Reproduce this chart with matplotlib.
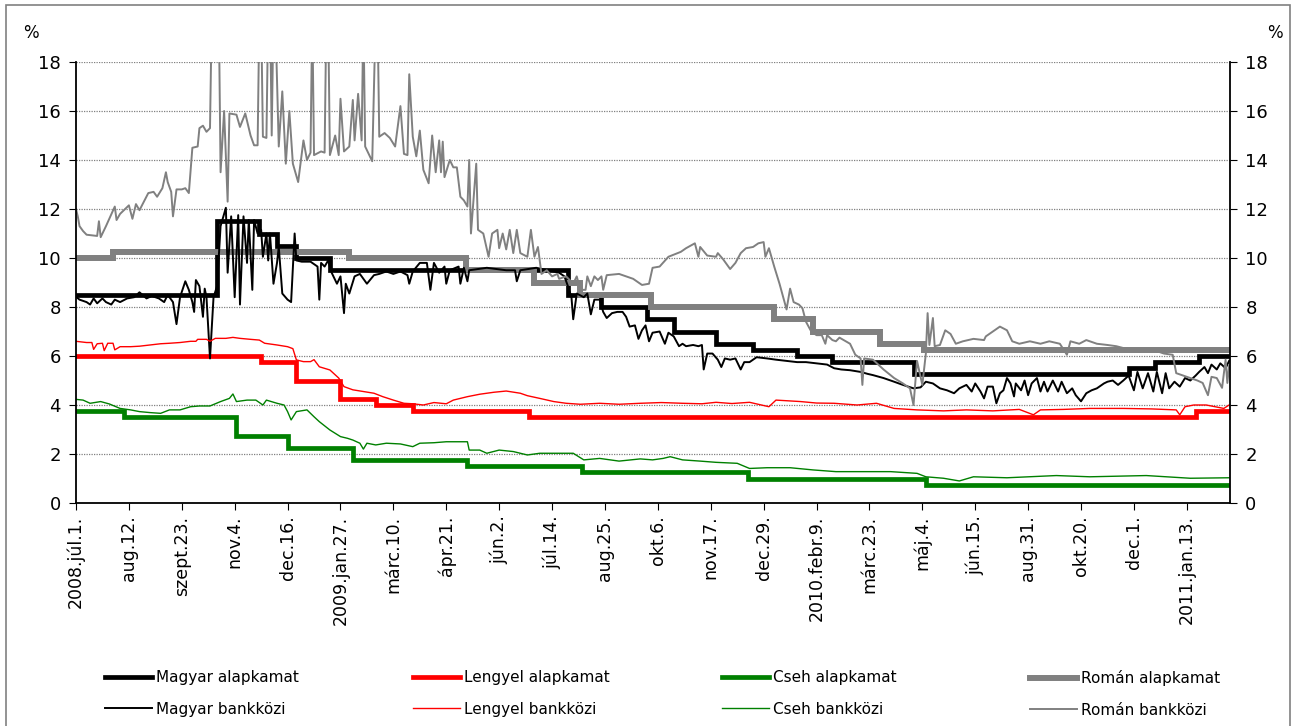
import numpy as np
from matplotlib import pyplot as plt
from matplotlib.patches import Rectangle

# x tengely: munkanapok sorszáma, címke minden 30. napnál
tick_labels = ["2008.júl.1.", "aug.12.", "szept.23.", "nov.4.", "dec.16.",
               "2009.jan.27.", "márc.10.", "ápr.21.", "jún.2.", "júl.14.",
               "aug.25.", "okt.6.", "nov.17.", "dec.29.", "2010.febr.9.",
               "márc.23.", "máj.4.", "jún.15.", "aug.31.", "okt.20.",
               "dec.1.", "2011.jan.13."]
tick_step = 30
last_day = 654

# alapkamatok: változás napja és új szint
hu_base_day = [0, 80, 104, 114, 125, 144, 279, 298, 324, 339, 363, 384, 409, 429, 475, 597, 612, 637]
hu_base = [8.5, 11.5, 11.0, 10.5, 10.0, 9.5, 8.5, 8.0, 7.5, 7.0, 6.5, 6.25, 6.0, 5.75, 5.25, 5.5, 5.75, 6.0]

pl_base_day = [0, 105, 125, 150, 170, 191, 257, 635]
pl_base = [6.0, 5.75, 5.0, 4.25, 4.0, 3.75, 3.5, 3.75]

cz_base_day = [0, 27, 91, 120, 157, 222, 287, 381, 482]
cz_base = [3.75, 3.5, 2.75, 2.25, 1.75, 1.5, 1.25, 1.0, 0.75]

ro_base_day = [0, 21, 155, 221, 260, 286, 326, 396, 418, 456, 481]
ro_base = [10.0, 10.25, 10.0, 9.5, 9.0, 8.5, 8.0, 7.5, 7.0, 6.5, 6.25]

# bankközi kamatok (leolvasott töréspontok)
hu_ib_day = [0, 2, 6, 8, 10, 12, 15, 17, 20, 22, 25, 29, 33, 36, 40, 43, 47, 50, 52, 55,
             57, 59, 62, 64, 66, 67, 68, 70, 72, 73, 74, 76, 78, 80, 82, 84, 85, 86, 88, 90,
             92, 93, 95, 97, 98, 100, 101, 103, 105, 106, 108, 109, 110, 112, 114, 115, 117, 120, 122, 124,
             125, 128, 133, 137, 138, 139, 141, 143, 145, 148, 150, 152, 153, 155, 158, 161, 165, 169, 172, 176,
             180, 184, 188, 189, 191, 195, 199, 201, 203, 206, 209, 210, 212, 217, 218, 220, 222, 223, 233, 244,
             249, 250, 252, 261, 271, 274, 277, 279, 281, 282, 284, 288, 290, 292, 294, 297, 299, 301, 304, 307,
             310, 312, 314, 317, 319, 321, 323, 325, 327, 331, 334, 336, 339, 342, 344, 346, 350, 353, 355, 356,
             358, 361, 364, 366, 368, 371, 374, 377, 379, 382, 386, 392, 397, 403, 409, 414, 420, 426, 430, 434,
             439, 445, 449, 452, 458, 464, 469, 475, 479, 482, 486, 490, 494, 498, 501, 505, 508, 510, 513, 515,
             517, 520, 522, 524, 526, 528, 530, 532, 533, 536, 538, 540, 542, 545, 547, 549, 551, 554, 557, 559,
             562, 565, 567, 570, 573, 576, 579, 583, 585, 588, 591, 594, 597, 600, 602, 605, 608, 611, 613, 616,
             618, 620, 623, 626, 629, 632, 635, 637, 640, 642, 644, 647, 649, 652, 654]
hu_ib = [8.42, 8.3, 8.2, 8.1, 8.35, 8.15, 8.35, 8.2, 8.1, 8.3, 8.2, 8.35, 8.4, 8.6, 8.35, 8.45, 8.35, 8.2, 8.5, 8.2,
         7.3, 8.4, 9.05, 8.7, 8.2, 7.8, 9.1, 8.85, 7.6, 8.75, 8.4, 5.9, 8.4, 8.85, 11.3, 11.8, 12.05, 9.4, 11.7, 8.4,
         11.75, 8.1, 11.7, 9.8, 11.55, 8.7, 11.55, 11.0, 11.15, 10.05, 11.0, 9.9, 11.0, 8.95, 9.8, 10.45, 8.55, 8.3, 8.2, 11.0,
         9.9, 9.85, 9.85, 9.65, 8.3, 9.8, 9.65, 9.9, 9.4, 8.95, 9.25, 7.75, 8.95, 8.55, 9.25, 9.35, 8.95, 9.3, 9.35, 9.45,
         9.35, 9.45, 9.3, 8.95, 9.45, 9.8, 9.8, 8.7, 9.8, 9.4, 9.65, 8.95, 9.5, 9.65, 8.95, 9.6, 9.05, 9.5, 9.6, 9.5,
         9.5, 9.05, 9.5, 9.6, 9.45, 9.4, 9.25, 8.85, 8.4, 7.5, 8.55, 8.4, 8.55, 7.7, 8.3, 8.3, 7.8, 7.55, 7.75, 7.8,
         7.8, 7.6, 7.2, 7.25, 6.7, 7.05, 7.25, 6.6, 6.95, 7.0, 6.5, 6.95, 6.8, 6.4, 6.5, 6.4, 6.45, 6.4, 6.45, 5.45,
         6.1, 6.1, 5.85, 5.55, 5.9, 5.85, 5.9, 5.45, 5.75, 5.75, 5.95, 5.9, 5.85, 5.8, 5.75, 5.75, 5.7, 5.65, 5.5, 5.45,
         5.42, 5.35, 5.27, 5.22, 5.1, 4.95, 4.82, 4.68, 4.72, 4.95, 4.88, 4.68, 4.6, 4.48, 4.68, 4.82, 4.55, 4.88, 4.55, 4.27,
         4.75, 4.75, 4.07, 4.48, 4.6, 5.1, 4.88, 4.35, 4.88, 4.6, 5.0, 4.4, 4.88, 5.1, 4.55, 4.95, 4.55, 5.0, 4.55, 4.95,
         4.48, 4.68, 4.4, 4.15, 4.48, 4.6, 4.68, 4.88, 4.95, 5.0, 4.82, 5.0, 5.2, 4.6, 5.35, 4.68, 5.3, 4.55, 5.35, 4.48,
         5.3, 4.68, 4.95, 4.75, 5.1, 5.0, 5.2, 5.35, 5.55, 5.3, 5.65, 5.45, 5.7, 5.5, 5.8]

pl_ib_day = [0, 6, 9, 10, 12, 15, 16, 18, 21, 22, 25, 31, 36, 42, 48, 53, 59, 65, 68, 69,
             74, 76, 79, 85, 89, 93, 99, 104, 107, 114, 120, 123, 125, 129, 133, 135, 138, 144, 149, 152,
             157, 163, 169, 174, 180, 186, 191, 197, 203, 210, 214, 222, 229, 237, 244, 252, 256, 263, 271, 278,
             286, 297, 308, 320, 332, 344, 355, 363, 372, 382, 393, 397, 411, 420, 430, 443, 454, 464, 477, 492,
             505, 520, 535, 543, 547, 560, 575, 594, 610, 624, 626, 629, 634, 641, 651, 654]
pl_ib = [6.6, 6.55, 6.55, 6.27, 6.5, 6.52, 6.22, 6.52, 6.52, 6.25, 6.38, 6.38, 6.4, 6.45, 6.5, 6.52, 6.55, 6.6, 6.6, 6.68,
         6.68, 6.6, 6.72, 6.72, 6.76, 6.72, 6.68, 6.65, 6.52, 6.45, 6.38, 6.3, 5.84, 5.77, 5.77, 5.85, 5.56, 5.43, 5.1, 4.75,
         4.62, 4.55, 4.48, 4.34, 4.2, 4.07, 4.05, 4.0, 4.1, 4.05, 4.2, 4.34, 4.44, 4.52, 4.57, 4.48, 4.38, 4.27, 4.14, 4.07,
         4.03, 4.07, 4.03, 4.07, 4.1, 4.07, 4.05, 4.11, 4.06, 4.11, 3.93, 4.2, 4.14, 4.08, 4.07, 4.0, 4.07, 3.86, 3.8, 3.76,
         3.8, 3.76, 3.82, 3.6, 3.8, 3.82, 3.86, 3.86, 3.84, 3.8, 3.6, 3.93, 4.0, 4.0, 3.86, 4.0]

cz_ib_day = [0, 4, 8, 14, 19, 25, 31, 36, 42, 48, 53, 59, 65, 70, 76, 82, 87, 89, 91, 97,
             102, 106, 108, 114, 118, 120, 122, 125, 131, 135, 138, 144, 150, 154, 157, 161, 163, 165, 170, 176,
             184, 191, 195, 203, 210, 222, 223, 229, 233, 240, 248, 256, 263, 275, 282, 288, 297, 308, 320, 327,
             333, 337, 344, 354, 363, 375, 382, 392, 405, 418, 431, 446, 462, 477, 482, 492, 501, 509, 528, 556,
             575, 607, 632, 654]
cz_ib = [4.23, 4.2, 4.07, 4.14, 4.04, 3.86, 3.8, 3.73, 3.69, 3.66, 3.8, 3.8, 3.93, 3.96, 3.96, 4.14, 4.27, 4.45, 4.14, 4.2,
         4.2, 4.0, 4.2, 4.07, 4.0, 3.73, 3.39, 3.73, 3.8, 3.52, 3.32, 2.98, 2.71, 2.64, 2.57, 2.44, 2.2, 2.44, 2.37, 2.44,
         2.41, 2.3, 2.44, 2.46, 2.5, 2.5, 2.16, 2.16, 2.03, 2.16, 2.1, 1.96, 2.03, 2.03, 2.03, 1.76, 1.82, 1.71, 1.8, 1.76,
         1.82, 1.89, 1.76, 1.71, 1.66, 1.62, 1.41, 1.44, 1.44, 1.35, 1.28, 1.28, 1.28, 1.21, 1.07, 1.01, 0.9, 1.07, 1.03, 1.12,
         1.07, 1.12, 1.01, 1.03]

ro_ib_day = [0, 1, 2, 4, 6, 12, 13, 14, 17, 22, 23, 25, 30, 32, 34, 36, 41, 44, 46, 49,
             51, 52, 54, 55, 57, 60, 62, 64, 66, 69, 70, 72, 74, 76, 77, 81, 82, 84, 86, 87,
             91, 93, 96, 99, 101, 103, 104, 105, 106, 108, 109, 110, 111, 112, 113, 115, 117, 119, 121, 123,
             126, 129, 131, 133, 134, 135, 139, 141, 142, 143, 144, 147, 149, 150, 152, 155, 157, 158, 160, 162,
             163, 164, 168, 170, 171, 172, 175, 178, 181, 184, 186, 188, 189, 191, 193, 195, 197, 200, 202, 204,
             206, 207, 208, 209, 212, 214, 216, 218, 220, 222, 223, 224, 227, 228, 231, 234, 236, 239, 240, 242,
             244, 246, 248, 250, 252, 256, 258, 260, 262, 264, 267, 270, 273, 274, 278, 282, 284, 286, 289, 290,
             292, 294, 296, 298, 299, 301, 308, 316, 321, 325, 327, 331, 336, 343, 346, 351, 353, 354, 358, 363,
             364, 367, 371, 374, 377, 380, 384, 387, 390, 391, 393, 396, 399, 403, 405, 407, 410, 412, 414, 417,
             420, 423, 425, 426, 429, 431, 433, 439, 442, 445, 446, 447, 452, 458, 464, 469, 473, 475, 477, 480,
             482, 483, 484, 486, 487, 490, 493, 496, 499, 503, 509, 515, 516, 520, 524, 528, 531, 535, 541, 547,
             552, 558, 562, 564, 569, 573, 579, 585, 590, 598, 603, 611, 617, 622, 624, 630, 636, 639, 642, 644,
             647, 650, 652, 653, 654]
ro_ib = [12.0, 11.7, 11.3, 11.1, 10.95, 10.9, 11.5, 10.85, 11.3, 12.1, 11.55, 11.8, 12.15, 11.6, 12.2, 11.95, 12.65, 12.7, 12.5, 12.85,
         13.5, 13.1, 12.7, 11.7, 12.8, 12.8, 12.85, 12.65, 14.5, 14.55, 15.3, 15.4, 15.15, 15.3, 20.0, 20.0, 13.5, 16.0, 12.3, 15.9,
         15.85, 15.35, 15.9, 15.0, 14.6, 14.6, 20.0, 20.0, 14.95, 14.9, 20.0, 20.5, 15.0, 20.0, 20.0, 14.55, 16.8, 13.85, 16.0, 13.85,
         13.1, 14.8, 14.0, 14.3, 20.0, 14.2, 14.35, 14.3, 20.0, 20.0, 14.2, 15.0, 14.2, 16.5, 14.35, 14.55, 16.45, 14.8, 16.7, 14.8,
         20.0, 14.55, 13.95, 20.0, 20.0, 14.95, 15.1, 14.9, 14.55, 16.2, 14.25, 14.2, 17.5, 14.95, 14.15, 15.2, 13.6, 13.05, 15.0, 13.5,
         14.8, 13.5, 14.75, 13.3, 14.0, 13.7, 13.7, 12.5, 12.35, 12.1, 14.0, 11.0, 13.85, 11.15, 11.0, 10.05, 11.0, 11.15, 10.4, 11.0,
         10.35, 11.15, 10.2, 11.15, 10.2, 10.05, 11.15, 10.05, 10.45, 9.35, 9.5, 9.25, 9.35, 9.15, 9.25, 8.95, 9.25, 8.7, 8.7, 9.25,
         8.85, 9.25, 9.1, 9.25, 8.7, 9.3, 9.35, 9.15, 8.9, 8.95, 9.6, 9.65, 10.05, 10.25, 10.4, 10.6, 10.05, 10.45, 10.1, 10.05,
         10.2, 9.95, 9.55, 9.8, 10.2, 10.4, 10.45, 10.6, 10.65, 10.05, 10.4, 9.65, 8.95, 7.9, 8.75, 8.2, 8.1, 7.95, 7.4, 7.0,
         6.85, 6.85, 6.5, 6.85, 6.65, 6.6, 6.75, 6.5, 6.05, 5.9, 4.82, 5.9, 5.85, 5.45, 5.1, 4.88, 4.68, 4.0, 5.8, 4.82,
         6.1, 7.75, 6.45, 7.55, 6.4, 6.45, 7.05, 6.9, 6.5, 6.6, 6.7, 6.65, 6.8, 7.0, 7.2, 7.05, 6.6, 6.5, 6.6, 6.5,
         6.6, 6.5, 6.05, 6.6, 6.5, 6.65, 6.5, 6.45, 6.4, 6.25, 6.2, 6.25, 6.1, 6.05, 5.3, 5.15, 5.0, 4.9, 4.4, 5.15,
         5.1, 4.7, 5.85, 4.9, 5.6]

series = [
    # (név, napok, értékek, szín, vastagság, lépcsős?)
    ("Magyar alapkamat", hu_base_day, hu_base, "black", 3.4, True),
    ("Lengyel alapkamat", pl_base_day, pl_base, "#ff0000", 3.4, True),
    ("Cseh alapkamat", cz_base_day, cz_base, "#008000", 3.4, True),
    ("Román alapkamat", ro_base_day, ro_base, "#808080", 4.3, True),
    ("Magyar bankközi", hu_ib_day, hu_ib, "black", 1.4, False),
    ("Lengyel bankközi", pl_ib_day, pl_ib, "#ff0000", 1.0, False),
    ("Cseh bankközi", cz_ib_day, cz_ib, "#008000", 1.0, False),
    ("Román bankközi", ro_ib_day, ro_ib, "#808080", 1.4, False),
]


def main() -> None:
    W, H = 1295, 726
    fig = plt.figure(figsize=(W / 100, H / 100), dpi=100)
    ax = fig.add_axes([76 / W, 1 - 503 / H, (1230 - 76) / W, (503 - 62) / H])

    handles = {}
    for name, days, vals, color, lw, is_step in series:
        if is_step:
            days = np.append(days, last_day)
            vals = np.append(vals, vals[-1])
            line, = ax.plot(days, vals, color=color, lw=lw, drawstyle="steps-post",
                            solid_joinstyle="miter", label=name)
        else:
            line, = ax.plot(days, vals, color=color, lw=lw, label=name)
        handles[name] = line

    ax.set_xlim(0, last_day + 0.5)
    ax.set_ylim(0, 18)
    ax.set_yticks(range(0, 19, 2))
    ax.set_xticks(np.arange(len(tick_labels)) * tick_step)
    ax.set_xticklabels(tick_labels, rotation=90, fontsize=12.5)
    ax.grid(axis="y", color="#808080", linestyle=(0, (1, 1)), lw=0.9)
    ax.set_axisbelow(True)
    ax.spines["top"].set_visible(False)
    for s in ("left", "right", "bottom"):
        ax.spines[s].set_linewidth(1.3)
    ax.tick_params(axis="y", direction="out", length=5, labelsize=13, left=True, right=True,
                   labelleft=True, labelright=True, pad=6)
    ax.tick_params(axis="x", direction="out", length=5, pad=4)

    fig.text(31 / W, 1 - 33 / H, "%", fontsize=12, ha="center", va="center")
    fig.text(1275 / W, 1 - 33 / H, "%", fontsize=12, ha="center", va="center")

    # jelmagyarázat: négy oszlop, két sor
    countries = ["Magyar", "Lengyel", "Cseh", "Román"]
    col_x = [105, 413, 722, 1030]
    for c, x in zip(countries, col_x):
        names = [c + " alapkamat", c + " bankközi"]
        fig.legend([handles[n] for n in names], names,
                   loc="upper left", bbox_to_anchor=(x / W, 1 - 670 / H), frameon=False,
                   fontsize=11, handlelength=3.1, handletextpad=0.25, borderpad=0,
                   borderaxespad=0, labelspacing=1.1)

    fig.patches.append(Rectangle((6 / W, -0.01), (1290 - 6) / W, 1.01 - 5 / H, transform=fig.transFigure,
                                 fill=False, edgecolor="#808080", lw=1.2))

    fig.savefig("out.png", dpi=100)


if __name__ == '__main__':
    main()
